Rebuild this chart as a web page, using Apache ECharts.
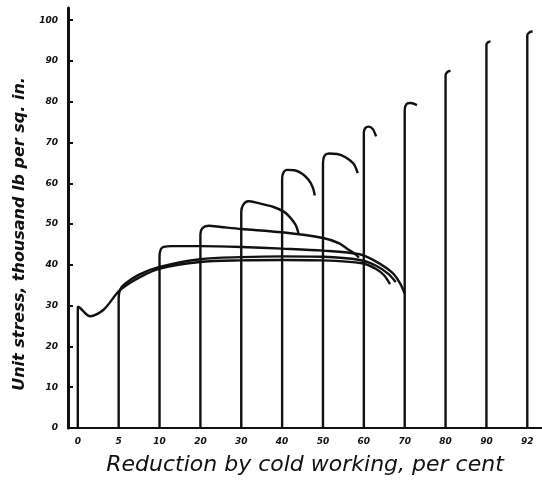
<!DOCTYPE html>
<html>
<head>
<meta charset="utf-8">
<script src="https://cdn.jsdelivr.net/npm/echarts@6/dist/echarts.min.js"></script>
<style>
html, body { margin: 0; background: #fff; }
#chart { width: 542px; height: 481px; }
</style>
</head>
<body>
<div id="chart"></div>
<script>
// reduction by cold working, one slot per specimen (slots are evenly spaced)
var reductionLabels = ['0', '5', '10', '20', '30', '40', '50', '60', '70', '80', '90', '92'];
var stressTicks = [0, 10, 20, 30, 40, 50, 60, 70, 80, 90, 100];

// stress-strain curves: [strain past the curve's own start (in slot widths), stress]
var curve0 = [[0, 0], [0, 29.8], [0.05, 29.5], [0.3, 27.4], [0.63, 29], [1.03, 33.8], [1.52, 37], [2.01, 39.1], [2.99, 40.7], [4, 41.1], [5, 41.2], [6, 41.1], [6.96, 40.4], [7.3, 39], [7.5, 37.4], [7.64, 35.3]];
var curve5 = [[0, 0], [0, 32], [0.04, 34], [0.15, 35.3], [0.5, 37.6], [1, 39.5], [2, 41.4], [3, 41.9], [4, 42.1], [5, 42], [5.9, 41.2], [6.3, 39.8], [6.6, 37.8], [6.78, 35.8]];
var curve10 = [[0, 0], [0, 42], [0.03, 43.8], [0.1, 44.4], [0.3, 44.6], [1, 44.6], [2, 44.4], [3, 44], [4, 43.5], [4.9, 42.6], [5.27, 41], [5.57, 39.1], [5.75, 37.5], [5.89, 35.4], [6, 33]];
var curve20 = [[0, 0], [0, 47.5], [0.05, 49], [0.2, 49.6], [0.5, 49.3], [1, 48.8], [2, 48], [3, 46.6], [3.4, 45.3], [3.6, 43.9], [3.78, 42.7], [3.88, 41.8]];
var curve30 = [[0, 0], [0, 53], [0.05, 54.8], [0.17, 55.6], [0.4, 55.2], [0.79, 54.2], [1.05, 53], [1.2, 51.6], [1.33, 49.8], [1.4, 47.8]];
var curve40 = [[0, 0], [0, 61], [0.03, 62.6], [0.12, 63.3], [0.3, 63.2], [0.5, 62.3], [0.65, 60.8], [0.75, 59], [0.8, 57]];
var curve50 = [[0, 0], [0, 65], [0.04, 66.8], [0.15, 67.3], [0.35, 67.2], [0.55, 66.4], [0.75, 64.8], [0.85, 62.5]];
var curve60 = [[0, 0], [0, 72.5], [0.04, 73.6], [0.12, 73.9], [0.22, 73.3], [0.3, 71.5]];
var curve70 = [[0, 0], [0, 78], [0.05, 79.5], [0.15, 79.7], [0.3, 79.2]];
var curve80 = [[0, 0], [0, 86.5], [0.04, 87.3], [0.12, 87.6]];
var curve90 = [[0, 0], [0, 94], [0.04, 94.6], [0.1, 94.8]];
var curve92 = [[0, 0], [0, 96.3], [0.05, 97], [0.13, 97.3]];

var curves = [curve0, curve5, curve10, curve20, curve30, curve40, curve50, curve60, curve70, curve80, curve90, curve92];

var ink = '#111';
var labelFont = {
    color: ink,
    fontFamily: 'DejaVu Sans',
    fontStyle: 'italic',
    fontWeight: 'bold',
    fontSize: 9
};

var dom = document.getElementById('chart');
var myChart = echarts.init(dom, null, { renderer: 'canvas' });

var series = curves.map(function (pts, i) {
    return {
        name: reductionLabels[i],
        type: 'line',
        // shift each curve so it starts at its own slot on the base line
        data: pts.map(function (p) { return [p[0] + i, p[1]]; }),
        showSymbol: false,
        smooth: 0.3,
        silent: true,
        lineStyle: { color: ink, width: 2.4 }
    };
});

var option = {
    animation: false,
    backgroundColor: '#fff',
    grid: { left: 68, right: 0, top: 8, bottom: 48 },
    xAxis: {
        type: 'value',
        min: -0.24,
        max: 11.36,
        name: 'Reduction by cold working, per cent',
        nameLocation: 'middle',
        nameGap: 26,
        nameTextStyle: {
            color: ink,
            fontFamily: 'DejaVu Sans',
            fontStyle: 'italic',
            fontSize: 22
        },
        axisLine: { show: true, onZero: false, lineStyle: { color: ink, width: 2 } },
        axisTick: { show: false },
        splitLine: { show: false },
        axisLabel: Object.assign({
            customValues: reductionLabels.map(function (l, i) { return i; }),
            margin: 9,
            formatter: function (v) { return reductionLabels[Math.round(v)]; }
        }, labelFont)
    },
    yAxis: {
        type: 'value',
        min: 0,
        max: 103,
        name: 'Unit stress, thousand lb per sq. in.',
        nameLocation: 'middle',
        nameGap: 38,
        nameTextStyle: {
            color: ink,
            fontFamily: 'DejaVu Sans',
            fontStyle: 'italic',
            fontWeight: 'bold',
            fontSize: 16,
            padding: [0, 32, 0, 0]
        },
        axisLine: { show: true, onZero: false, lineStyle: { color: ink, width: 3 } },
        axisTick: {
            show: true,
            inside: true,
            length: 5,
            customValues: stressTicks,
            lineStyle: { color: ink, width: 2 }
        },
        splitLine: { show: false },
        axisLabel: Object.assign({
            customValues: stressTicks,
            margin: 10
        }, labelFont)
    },
    series: series
};

option && myChart.setOption(option);
</script>
</body>
</html>
